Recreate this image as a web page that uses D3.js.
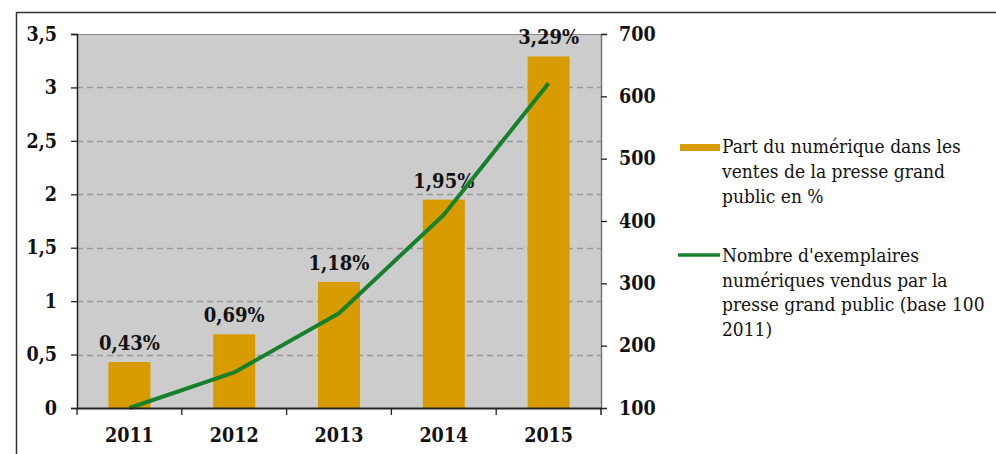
<!DOCTYPE html>
<html>
  <head>
    <meta charset="utf-8">
    <script src="https://d3js.org/d3.v7.min.js"></script>
    <style>
      body { margin: 0; background: #fff; }
      svg text { font-family: "DejaVu Serif Condensed", "DejaVu Serif", serif; }
    </style>
  </head>
  <body>
    <script type="text/javascript">

    // data
    var years = ["2011", "2012", "2013", "2014", "2015"];
    var sharePct = [0.43, 0.69, 1.18, 1.95, 3.29];        // bars, left axis
    var shareLabels = ["0,43%", "0,69%", "1,18%", "1,95%", "3,29%"];
    var copiesIndex = [100, 157, 252, 410, 621];          // line, right axis
    var leftTicks = [0, 0.5, 1, 1.5, 2, 2.5, 3, 3.5];
    var rightTicks = [100, 200, 300, 400, 500, 600, 700];
    var legendBar = ["Part du numérique dans les", "ventes de la presse grand", "public en %"];
    var legendLine = ["Nombre d'exemplaires", "numériques vendus par la", "presse grand public (base 100", "2011)"];

    var W = 996, H = 454;
    var plot = {left: 77, right: 601, top: 34, bottom: 408};

    var svg = d3.select("body").append("svg")
        .attr("width", W).attr("height", H);

    // outer frame (only top and left edges are visible)
    svg.append("path")
        .attr("d", "M16.5," + H + "V12.5H" + W)
        .attr("fill", "none").attr("stroke", "#333").attr("stroke-width", 1.5);

    var xb = d3.scaleBand().domain(years).range([plot.left, plot.right]);
    var yL = d3.scaleLinear().domain([0, 3.5]).range([plot.bottom, plot.top]);
    var yR = d3.scaleLinear().domain([100, 700]).range([plot.bottom, plot.top]);

    // plot background
    svg.append("rect")
        .attr("x", plot.left).attr("y", plot.top)
        .attr("width", plot.right - plot.left).attr("height", plot.bottom - plot.top)
        .attr("fill", "#cccccc");

    // grid lines
    svg.selectAll(".grid").data(leftTicks.slice(1, -1)).enter().append("line")
        .attr("x1", plot.left).attr("x2", plot.right)
        .attr("y1", function (d) { return Math.round(yL(d)) + 0.5; })
        .attr("y2", function (d) { return Math.round(yL(d)) + 0.5; })
        .attr("stroke", "#999").attr("stroke-width", 1.3).attr("stroke-dasharray", "6,4");

    // top border of plot area
    svg.append("line")
        .attr("x1", plot.left).attr("x2", plot.right)
        .attr("y1", plot.top + 0.5).attr("y2", plot.top + 0.5)
        .attr("stroke", "#888").attr("stroke-width", 1.2);

    // bars
    svg.selectAll(".bar").data(sharePct).enter().append("rect")
        .attr("x", function (d, i) { return xb(years[i]) + xb.bandwidth() / 2 - 21; })
        .attr("width", 42)
        .attr("y", function (d) { return yL(d); })
        .attr("height", function (d) { return plot.bottom - yL(d); })
        .attr("fill", "#d99c00");

    // bar labels
    svg.selectAll(".blab").data(sharePct).enter().append("text")
        .attr("x", function (d, i) { return xb(years[i]) + xb.bandwidth() / 2; })
        .attr("y", function (d) { return yL(d) - 12; })
        .attr("text-anchor", "middle")
        .attr("font-size", 20).attr("font-weight", "bold").attr("fill", "#111")
        .text(function (d, i) { return shareLabels[i]; });

    // line series
    var line = d3.line()
        .x(function (d, i) { return xb(years[i]) + xb.bandwidth() / 2; })
        .y(function (d) { return yR(d); });
    svg.append("path").datum(copiesIndex)
        .attr("d", line)
        .attr("fill", "none").attr("stroke", "#16802c").attr("stroke-width", 4)
        .attr("stroke-linejoin", "round");

    // left axis
    var axL = svg.append("g").attr("transform", "translate(" + plot.left + ",0)")
        .call(d3.axisLeft(yL).tickValues(leftTicks).tickSize(6).tickPadding(14)
            .tickFormat(function (d) { return String(d).replace(".", ","); }));
    // right axis
    var axR = svg.append("g").attr("transform", "translate(" + plot.right + ",0)")
        .call(d3.axisRight(yR).tickValues(rightTicks).tickSize(6).tickPadding(12));
    // bottom axis
    var axB = svg.append("g").attr("transform", "translate(0," + plot.bottom + ")")
        .call(d3.axisBottom(xb).tickSize(0).tickPadding(20));
    axB.selectAll(".tick").append("line")
        .attr("x1", -xb.bandwidth() / 2).attr("x2", -xb.bandwidth() / 2)
        .attr("y1", 0).attr("y2", 7).attr("stroke", "#222").attr("stroke-width", 1.5);
    axB.append("line").attr("x1", plot.right).attr("x2", plot.right)
        .attr("y1", 0).attr("y2", 7).attr("stroke", "#222").attr("stroke-width", 1.5);

    [axL, axR, axB].forEach(function (g) {
      g.selectAll("text").attr("font-size", 19.5).attr("font-weight", "bold").attr("fill", "#111")
        .style("font-family", "'DejaVu Serif Condensed', 'DejaVu Serif', serif");
      g.selectAll(".tick line").attr("stroke", "#222").attr("stroke-width", 1.3);
    });
    axL.select(".domain").attr("stroke", "#222").attr("stroke-width", 1.5);
    axR.select(".domain").attr("stroke", "#777").attr("stroke-width", 1.5);
    axB.select(".domain").attr("stroke", "#222").attr("stroke-width", 1.8);

    // legend
    var lg = svg.append("g");
    lg.append("rect").attr("x", 680).attr("y", 144).attr("width", 40).attr("height", 7).attr("fill", "#d99c00");
    lg.selectAll(".l1").data(legendBar).enter().append("text")
        .attr("x", 722).attr("y", function (d, i) { return 153 + i * 25; })
        .attr("font-size", 19).attr("fill", "#111").text(function (d) { return d; });
    lg.append("line").attr("x1", 678).attr("x2", 720).attr("y1", 255).attr("y2", 255)
        .attr("stroke", "#16802c").attr("stroke-width", 3.5);
    lg.selectAll(".l2").data(legendLine).enter().append("text")
        .attr("x", 722).attr("y", function (d, i) { return 262 + i * 24.5; })
        .attr("font-size", 19).attr("fill", "#111").text(function (d) { return d; });

    </script>
  </body>
</html>
